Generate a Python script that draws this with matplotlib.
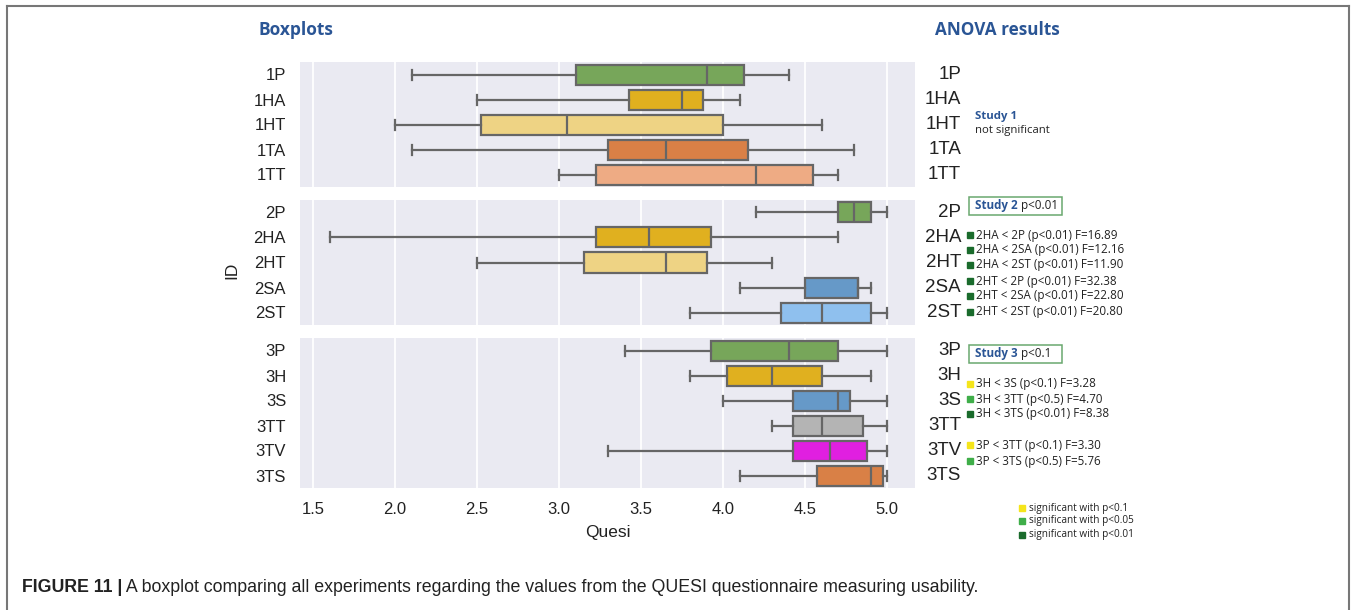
import matplotlib
matplotlib.use('Agg')
import matplotlib.pyplot as plt
from matplotlib.lines import Line2D
from matplotlib.patches import Rectangle

# ── 数据（从图上读出的箱线图统计量）────────────────────
S1_LABELS = ['1P', '1HA', '1HT', '1TA', '1TT']
S1_WHISLO = [2.1, 2.5, 2.0, 2.1, 3.0]
S1_Q1 = [3.1, 3.425, 2.525, 3.3, 3.225]
S1_MED = [3.9, 3.75, 3.05, 3.65, 4.2]
S1_Q3 = [4.125, 3.875, 4.0, 4.15, 4.55]
S1_WHISHI = [4.4, 4.1, 4.6, 4.8, 4.7]

S2_LABELS = ['2P', '2HA', '2HT', '2SA', '2ST']
S2_WHISLO = [4.2, 1.6, 2.5, 4.1, 3.8]
S2_Q1 = [4.7, 3.225, 3.15, 4.5, 4.35]
S2_MED = [4.8, 3.55, 3.65, 4.825, 4.6]
S2_Q3 = [4.9, 3.925, 3.9, 4.825, 4.9]
S2_WHISHI = [5.0, 4.7, 4.3, 4.9, 5.0]

S3_LABELS = ['3P', '3H', '3S', '3TT', '3TV', '3TS']
S3_WHISLO = [3.4, 3.8, 4.0, 4.3, 3.3, 4.1]
S3_Q1 = [3.925, 4.025, 4.425, 4.425, 4.425, 4.575]
S3_MED = [4.4, 4.3, 4.7, 4.6, 4.65, 4.9]
S3_Q3 = [4.7, 4.6, 4.775, 4.85, 4.875, 4.975]
S3_WHISHI = [5.0, 4.9, 5.0, 5.0, 5.0, 5.0]

S1_COLORS = ['#77a65a', '#e0b01f', '#eed384', '#d98046', '#eeab84']
S2_COLORS = ['#77a65a', '#e0b01f', '#eed384', '#6699c8', '#8fc0ee']
S3_COLORS = ['#77a65a', '#e0b01f', '#6699c8', '#b4b4b4', '#e01fe0', '#d98046']

XTICKS = [1.5, 2.0, 2.5, 3.0, 3.5, 4.0, 4.5, 5.0]

# ANOVA 结果文字（等级：1=p<0.1, 2=p<0.05, 3=p<0.01）
S2_RESULTS = ['2HA < 2P (p<0.01) F=16.89', '2HA < 2SA (p<0.01) F=12.16',
              '2HA < 2ST (p<0.01) F=11.90', '2HT < 2P (p<0.01) F=32.38',
              '2HT < 2SA (p<0.01) F=22.80', '2HT < 2ST (p<0.01) F=20.80']
S2_LEVEL = [3, 3, 3, 3, 3, 3]
S3_RESULTS = ['3H < 3S (p<0.1) F=3.28', '3H < 3TT (p<0.5) F=4.70',
              '3H < 3TS (p<0.01) F=8.38', '3P < 3TT (p<0.1) F=3.30',
              '3P < 3TS (p<0.5) F=5.76']
S3_LEVEL = [1, 2, 3, 1, 2]
LEGEND_TEXT = ['significant with p<0.1', 'significant with p<0.05',
               'significant with p<0.01']
LEVEL_COLORS = {1: '#f5e51b', 2: '#3fae49', 3: '#1a6b2c'}

CAPTION = (' A boxplot comparing all experiments regarding the values from the '
           'QUESI questionnaire measuring usability.')

W, H = 1357, 610
BLUE = '#2a5595'
GRAY = '#666666'
BG = '#eaeaf2'
TXT = '#222222'
TICK_FONT = ['Liberation Sans', 'DejaVu Sans']
ANN_FONT = ['Open Sans', 'DejaVu Sans']

plt.rcParams['font.family'] = TICK_FONT


def fx(px):
    return px / W


def fy(py):
    return 1 - py / H


def square(fig, x, y, color, size=6):
    fig.patches.append(Rectangle((fx(x), fy(y + size / 2)), fx(size),
                                 fy(y - size / 2) - fy(y + size / 2),
                                 transform=fig.transFigure, color=color))


def draw_panel(ax, labels, lo, q1, med, q3, hi, colors, show_x):
    n = len(labels)
    stats = [dict(whislo=lo[i], q1=q1[i], med=med[i], q3=q3[i], whishi=hi[i], fliers=[])
             for i in range(n)]
    bp = ax.bxp(stats, positions=list(range(n)), widths=0.8, orientation='horizontal',
                patch_artist=True, showfliers=False,
                boxprops=dict(edgecolor=GRAY, linewidth=1.6),
                medianprops=dict(color=GRAY, linewidth=1.6),
                whiskerprops=dict(color=GRAY, linewidth=1.6),
                capprops=dict(color=GRAY, linewidth=1.6))
    for patch, c in zip(bp['boxes'], colors):
        patch.set_facecolor(c)
    ax.set_facecolor(BG)
    for s in ax.spines.values():
        s.set_visible(False)
    ax.set_ylim(n - 0.5, -0.5)
    ax.set_yticks(range(n))
    ax.set_yticklabels(labels, fontsize=12, color=TXT)
    ax.set_xticks(XTICKS)
    ax.grid(axis='x', color='white', lw=1.3)
    ax.set_axisbelow(True)
    ax.tick_params(length=0, pad=10)
    if show_x:
        ax.set_xticklabels([f'{t:.1f}' for t in XTICKS], fontsize=12, color=TXT)
    else:
        ax.set_xticklabels([])
    # 右侧重复的标签（ANOVA 一侧）
    for i, lab in enumerate(labels):
        ax.text(1.075, i, lab, transform=ax.get_yaxis_transform(), ha='right',
                va='center', fontsize=13.5, color=TXT)


def main():
    fig = plt.figure(figsize=(W / 100, H / 100), dpi=100)
    left, right = fx(300), fx(915)
    ax1 = fig.add_axes([left, fy(187), right - left, fy(62) - fy(187)])
    ax2 = fig.add_axes([left, fy(325), right - left, fy(200) - fy(325)], sharex=ax1)
    ax3 = fig.add_axes([left, fy(488), right - left, fy(338) - fy(488)], sharex=ax1)

    draw_panel(ax1, S1_LABELS, S1_WHISLO, S1_Q1, S1_MED, S1_Q3, S1_WHISHI, S1_COLORS, False)
    draw_panel(ax2, S2_LABELS, S2_WHISLO, S2_Q1, S2_MED, S2_Q3, S2_WHISHI, S2_COLORS, False)
    draw_panel(ax3, S3_LABELS, S3_WHISLO, S3_Q1, S3_MED, S3_Q3, S3_WHISHI, S3_COLORS, True)
    ax3.set_xlabel('Quesi', fontsize=12.5, color=TXT, labelpad=6)
    ax1.set_xlim(1.42, 5.17)

    fig.text(fx(232), fy(270), 'ID', rotation=90, ha='center', va='center',
             fontsize=12.5, color=TXT)

    # 标题
    fig.text(fx(258), fy(30), 'Boxplots', fontsize=12.5, fontweight='bold',
             color=BLUE, family=ANN_FONT, va='center')
    fig.text(fx(935), fy(30), 'ANOVA results', fontsize=12.3, fontweight='bold',
             color=BLUE, family=ANN_FONT, va='center')

    # Study 1
    fig.text(fx(975), fy(116), 'Study 1', fontsize=8.2, fontweight='bold', color=BLUE,
             family=ANN_FONT, va='center')
    fig.text(fx(975), fy(131), 'not significant', fontsize=8.2, color=TXT,
             family=ANN_FONT, va='center')

    # Study 2 / Study 3 方框标题
    for y0, name, p in [(206, 'Study 2', 'p<0.01'), (354, 'Study 3', 'p<0.1')]:
        fig.patches.append(Rectangle((fx(969), fy(y0 + 9)), fx(93), fy(y0 - 9) - fy(y0 + 9),
                                     transform=fig.transFigure, fill=False,
                                     edgecolor='#6aa86f', lw=1.1))
        t = fig.text(fx(975), fy(y0), name + ' ', fontsize=8.4, fontweight='bold',
                     color=BLUE, family=ANN_FONT, va='center')
        fig.canvas.draw()
        fig.text(t.get_window_extent().x1 / W, fy(y0), p, fontsize=8.4, color=TXT,
                 family=ANN_FONT, va='center')

    # 显著性结果
    s2_y = [235, 250, 265, 281, 296, 312]
    for y, txt, lvl in zip(s2_y, S2_RESULTS, S2_LEVEL):
        square(fig, 967, y, LEVEL_COLORS[lvl])
        fig.text(fx(976), fy(y), txt, fontsize=8.4, color=TXT, family=ANN_FONT,
                 va='center')
    s3_y = [384, 399, 414, 445, 461]
    for y, txt, lvl in zip(s3_y, S3_RESULTS, S3_LEVEL):
        square(fig, 967, y, LEVEL_COLORS[lvl])
        fig.text(fx(976), fy(y), txt, fontsize=8.4, color=TXT, family=ANN_FONT,
                 va='center')

    # 图例
    for y, txt, lvl in zip([508, 521, 535], LEGEND_TEXT, [1, 2, 3]):
        square(fig, 1019, y, LEVEL_COLORS[lvl])
        fig.text(fx(1029), fy(y), txt, fontsize=7.2, color=TXT, family=ANN_FONT,
                 va='center')

    # 外框
    for xs, ys in [([7, 7], [6, 610]), ([1349, 1349], [6, 610]), ([7, 1349], [6, 6])]:
        fig.add_artist(Line2D([fx(x) for x in xs], [fy(y) for y in ys],
                              transform=fig.transFigure, color='#777777', lw=1.5))

    # 图注
    cap_font = ['Liberation Sans Narrow', 'Liberation Sans']
    cap = fig.text(fx(22), fy(588), 'FIGURE 11 |', fontsize=12.8, fontweight='bold',
                   family=cap_font, color=TXT, va='center')
    fig.add_artist(plt.Annotation(CAPTION, xy=(1, 0.5), xycoords=cap, va='center',
                                  fontsize=12.8, family=cap_font, color=TXT))

    fig.savefig('out.png', dpi=100)


if __name__ == '__main__':
    main()
